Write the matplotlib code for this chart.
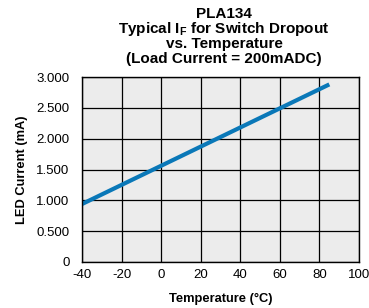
import matplotlib
matplotlib.use('Agg')
import matplotlib.pyplot as plt

plt.rcParams['font.family'] = ['Liberation Sans', 'DejaVu Sans']
plt.rcParams['mathtext.fontset'] = 'custom'
plt.rcParams['mathtext.bf'] = 'Liberation Sans:bold'
plt.rcParams['mathtext.rm'] = 'Liberation Sans:bold'
plt.rcParams['mathtext.default'] = 'bf'
plt.rcParams['axes.unicode_minus'] = False

temperature = [-40, 85]
led_current = [0.94, 2.88]
x_ticks = [-40, -20, 0, 20, 40, 60, 80, 100]
y_ticks = [0, 0.5, 1.0, 1.5, 2.0, 2.5, 3.0]
y_labels = ['0', '0.500', '1.000', '1.500', '2.000', '2.500', '3.000']

fig = plt.figure(figsize=(3.69, 3.08), dpi=100)
ax = fig.add_axes([82 / 369, 1 - 262 / 308, 277 / 369, 185 / 308])
ax.set_facecolor('#ececec')
ax.plot(temperature, led_current, color='#0a78b8', lw=3, solid_capstyle='butt')
ax.set_xlim(-40, 100)
ax.set_ylim(0, 3)
ax.set_xticks(x_ticks)
ax.set_yticks(y_ticks)
ax.set_yticklabels(y_labels)
ax.grid(True, color='black', lw=0.9)
ax.set_axisbelow(True)
ax.tick_params(length=0, labelsize=9.5)
ax.tick_params(axis='x', pad=5)
ax.tick_params(axis='y', pad=9)
for s in ax.spines.values():
    s.set_color('black')
    s.set_linewidth(1)
ax.set_xlabel('Temperature (°C)', fontsize=9.3, fontweight='bold', labelpad=9)
ax.set_ylabel('LED Current (mA)', fontsize=9.3, fontweight='bold', labelpad=6)

# title lines stacked by hand
titles = ['PLA134', r'Typical I$_F$ for Switch Dropout', 'vs. Temperature', '(Load Current = 200mADC)']
for i, t in enumerate(titles):
    fig.text(224 / 369, 1 - (13.5 + 15.3 * i) / 308, t, ha='center', va='center',
             fontsize=11, fontweight='bold')

fig.savefig('out.png', dpi=100)
